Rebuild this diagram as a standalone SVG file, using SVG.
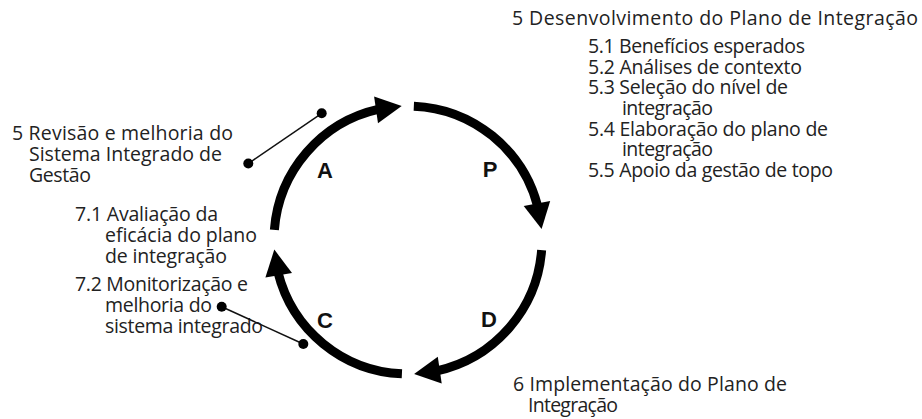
<svg xmlns="http://www.w3.org/2000/svg" width="922" height="419" viewBox="0 0 922 419">
<style>
.t{font-family:"Open Sans","Noto Sans","Liberation Sans",sans-serif;font-size:19.5px;fill:#222}
.lbl{font-family:"Liberation Sans",Arial,sans-serif;font-size:22px;font-weight:bold;fill:#111;text-anchor:middle}
.arc{fill:none;stroke:#000;stroke-width:9;stroke-linecap:butt}
.head{fill:#000}
.lead{stroke:#111;stroke-width:1.5;fill:none}
</style>
<defs>
<marker id="dot" viewBox="-6 -6 12 12" refX="0" refY="0" markerWidth="12" markerHeight="12" markerUnits="userSpaceOnUse">
<circle r="5" fill="#000"/>
</marker>
</defs>
<rect width="922" height="419" fill="#fff"/>

<g id="cycle">
<g id="arc-A">
<path class="arc" d="M274.38 229.95 A134 134 0 0 1 379.00 109.18"/>
<polygon class="head" points="401.7,106.1 378.0,123.2 374.1,96.5"/>
<text class="lbl" x="325" y="178">A</text>
</g>
<g id="arc-P">
<path class="arc" d="M413.84 106.13 A134 134 0 0 1 537.73 206.45"/>
<polygon class="head" points="541.6,229.0 550.2,201.1 523.7,205.9"/>
<text class="lbl" x="490" y="177">P</text>
</g>
<g id="arc-D">
<path class="arc" d="M541.62 250.05 A134 134 0 0 1 437.00 370.82"/>
<polygon class="head" points="414.1,373.9 441.7,383.6 437.8,356.8"/>
<text class="lbl" x="489" y="327">D</text>
</g>
<g id="arc-C">
<path class="arc" d="M401.92 373.86 A134 134 0 0 1 277.98 272.42"/>
<polygon class="head" points="274.3,249.6 292.0,272.9 265.4,277.4"/>
<text class="lbl" x="325" y="328">C</text>
</g>
</g>

<g id="node-plan">
<text class="t" x="512" y="24.5" textLength="406">5 Desenvolvimento do Plano de Integração</text>
<text class="t" x="588" y="53" textLength="217">5.1 Benefícios esperados</text>
<text class="t" x="588" y="73.5" textLength="214">5.2 Análises de contexto</text>
<text class="t" x="588" y="94" textLength="200">5.3 Seleção do nível de</text>
<text class="t" x="622" y="114.5" textLength="91">integração</text>
<text class="t" x="588" y="135.5" textLength="240">5.4 Elaboração do plano de</text>
<text class="t" x="622" y="156" textLength="91">integração</text>
<text class="t" x="588" y="177" textLength="245">5.5 Apoio da gestão de topo</text>
</g>

<g id="node-do">
<text class="t" x="513" y="391" textLength="274">6 Implementação do Plano de</text>
<text class="t" x="528" y="411.5" textLength="90">Integração</text>
</g>

<g id="node-act">
<text class="t" x="12" y="140" textLength="221">5 Revisão e melhoria do</text>
<text class="t" x="29" y="161" textLength="193">Sistema Integrado de</text>
<text class="t" x="29" y="181.5" textLength="62">Gestão</text>
</g>

<g id="node-check">
<text class="t" x="75" y="220.5" textLength="143">7.1 Avaliação da</text>
<text class="t" x="105" y="241.5" textLength="152">eficácia do plano</text>
<text class="t" x="105" y="262.5" textLength="122">de integração</text>
<text class="t" x="75" y="291" textLength="173">7.2 Monitorização e</text>
<text class="t" x="105" y="312" textLength="107">melhoria do</text>
<text class="t" x="105" y="333" textLength="158">sistema integrado</text>
</g>

<g id="connectors">
<line class="lead" x1="321.7" y1="113.3" x2="248.3" y2="163.5" marker-start="url(#dot)" marker-end="url(#dot)"/>
<line class="lead" x1="221.7" y1="306.7" x2="303.3" y2="344" marker-start="url(#dot)" marker-end="url(#dot)"/>
</g>
</svg>
